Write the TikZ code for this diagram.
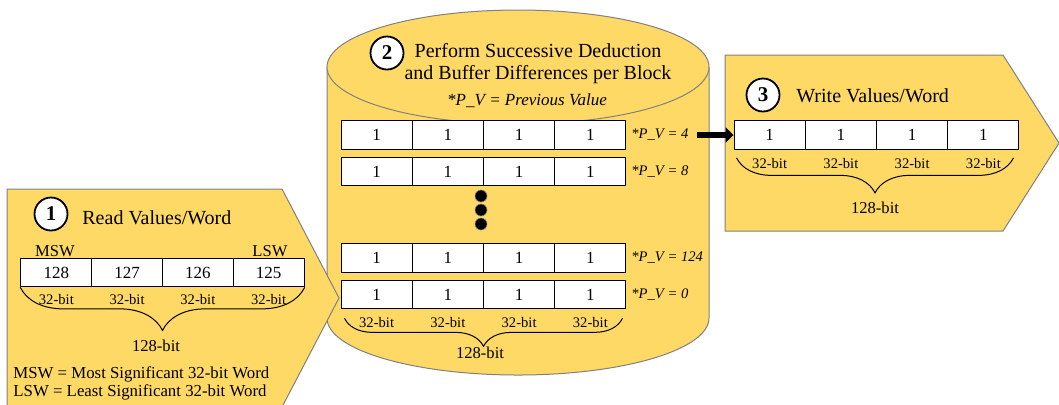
\documentclass[tikz,border=0pt]{standalone}
\usepackage{fontspec}
\setmainfont{Liberation Serif}
\usetikzlibrary{arrows.meta, decorations.pathreplacing, calc, positioning}
\definecolor{panelfill}{HTML}{FFD966}
\definecolor{panelline}{HTML}{808080}

\begin{document}
\begin{tikzpicture}[x=0.5pt, y=-0.5pt,
  panel/.style={fill=panelfill, draw=panelline, line width=0.5pt},
  numcircle/.style={circle, draw, line width=0.9pt, fill=white, minimum size=16.5pt, inner sep=0pt, font=\fontsize{10.5}{12}\selectfont\bfseries},
  title/.style={font=\fontsize{10}{11}\selectfont, inner sep=0pt},
  cell/.style={draw, fill=white, line width=0.6pt, minimum width=35.5pt, minimum height=14.25pt, inner sep=0pt, font=\fontsize{8.5}{10}\selectfont},
  bitlbl/.style={font=\fontsize{7.3}{9}\selectfont, inner sep=0pt},
  totlbl/.style={font=\fontsize{8.3}{10}\selectfont, inner sep=0pt},
  pvlbl/.style={font=\fontsize{7.3}{9}\selectfont\itshape, inner sep=0pt, anchor=west},
  wordbrace/.style={decorate, decoration={brace, mirror, amplitude=#1}, line width=0.5pt},
  dot/.style={circle, fill=black, draw=gray, line width=0.3pt, minimum size=6pt, inner sep=0pt}
]
  \useasboundingbox (0,0) rectangle (1059,404);
  \clip (0,0) rectangle (1059,404);

  % cylinder of step 2, then the two arrow panels
  \filldraw[panel] (327,67) -- (327,318) arc[start angle=180, end angle=0, x radius=191, y radius=57] -- (709,67);
  \filldraw[panel] (518,67) ellipse [x radius=191, y radius=57];
  \filldraw[panel] (7,189) -- (282,189) -- (339,298) -- (282,407) -- (7,407) -- cycle;
  \filldraw[panel] (725,55) -- (1003,55) -- (1059,143) -- (1003,231) -- (725,231) -- cycle;

  % step 1: read
  \node[numcircle] (n1) at (51,214) {1};
  \node[title, anchor=west] (t1) at (82,218) {Read Values/Word};
  \node[totlbl] (msw) at (55,251) {MSW};
  \node[totlbl] (lsw) at (270,251) {LSW};
  \foreach \v [count=\i] in {128,127,126,125}{
    \node[cell] (in\i) at ({21+70.75*(\i-0.5)},272.5) {\v};
    \node[bitlbl] (inb\i) at ($(in\i.south)+(0,12)$) {32-bit};
  }
  \draw[wordbrace=21.5pt] (in1.south west) -- (in4.south east);
  \node[totlbl] (inall) at (156,346) {128-bit};
  \node[font=\fontsize{8.4}{9}\selectfont, inner sep=0pt, anchor=west] (leg1) at (13,374) {MSW = Most Significant 32-bit Word};
  \node[font=\fontsize{8.4}{9}\selectfont, inner sep=0pt, anchor=west] (leg2) at (13,392) {LSW = Least Significant 32-bit Word};

  % step 2: successive deduction
  \node[numcircle] (n2) at (387,53) {2};
  \node[title, align=center] (t2) at (538,64) {Perform Successive Deduction\\and Buffer Differences per Block};
  \node[font=\fontsize{8.5}{10}\selectfont\itshape, inner sep=0pt] (pvnote) at (527,101) {*P\_V = Previous Value};
  \foreach \r/\y/\pv in {1/135/4, 2/171.5/8, 3/258/124, 4/294.5/0}{
    \foreach \c in {1,...,4}
      \node[cell] (r\r-\c) at ({341+71.25*(\c-0.5)},\y) {1};
    \node[pvlbl] (pv\r) at (631,\y) {*P\_V = \pv};
  }
  \foreach \y [count=\k] in {196,210,224}
    \node[dot] (dot\k) at (481,\y) {};
  \foreach \c in {1,...,4}
    \node[bitlbl] (rb\c) at ($(r4-\c.south)+(0,13)$) {32-bit};
  \draw[wordbrace=14pt] ($(r4-1.south west)+(4,9)$) -- ($(r4-4.south east)+(-4,9)$);
  \node[totlbl] (rall) at (480,353) {128-bit};

  % step 3: write
  \node[numcircle] (n3) at (763,95) {3};
  \node[title, anchor=west] (t3) at (796,96) {Write Values/Word};
  \foreach \c in {1,...,4}{
    \node[cell] (out\c) at ({734+71.25*(\c-0.5)},135) {1};
    \node[bitlbl] (outb\c) at ($(out\c.south)+(0,14)$) {32-bit};
  }
  \draw[wordbrace=17.5pt] ($(out1.south west)+(3,8)$) -- ($(out4.south east)+(-6,8)$);
  \node[totlbl] (outall) at (875,208) {128-bit};

  \draw[line width=3pt, -{Triangle[length=4pt, width=7.5pt]}, shorten <=4pt] (pv1.east) -- (out1.west);
\end{tikzpicture}
\end{document}
